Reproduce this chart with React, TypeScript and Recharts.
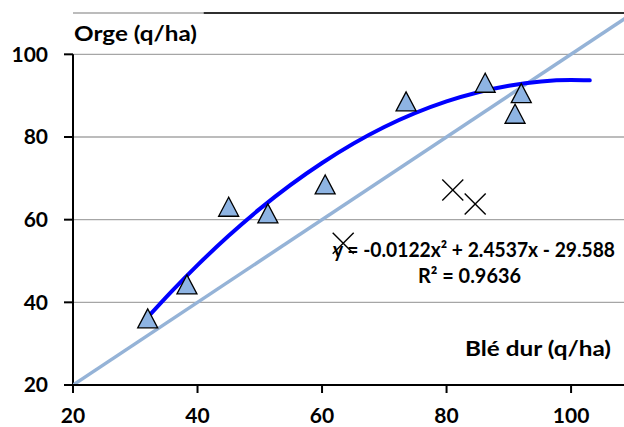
import React from "react";
import {
  CartesianGrid,
  ComposedChart,
  Line,
  ReferenceLine,
  Scatter,
  XAxis,
  YAxis,
} from "recharts";

// Blé dur (x) vs Orge (y), q/ha
const trialX = [32, 38.3, 45, 51.3, 60.5, 73.5, 86.2, 92, 91];
const trialY = [36, 44.2, 63, 61.4, 68.4, 88.5, 93, 90.5, 85.5];

const outlierX = [63.4, 81, 84.6];
const outlierY = [54.3, 67.2, 63.8];

// polynomial trend line
const fitX = [32, 36, 40, 45, 50, 60, 70, 80, 90, 100, 103];
const fitY = [36.4, 42.9, 49.0, 56.1, 62.6, 73.7, 82.4, 88.6, 92.4, 93.8, 93.7];

// 1:1 line
const diagX = [20, 110];
const diagY = [20, 110];

const xTicks = [20, 40, 60, 80, 100];
const yTicks = [20, 40, 60, 80, 100];

const equation = "y = -0.0122x² + 2.4537x - 29.588";
const rSquared = "R² = 0.9636";

const zip = (xs: number[], ys: number[]) => xs.map((x, i) => ({ x, y: ys[i] }));

const trials = zip(trialX, trialY);
const outliers = zip(outlierX, outlierY);
const fit = zip(fitX, fitY);
const diag = zip(diagX, diagY);

const FONT = "Lato, 'Open Sans', sans-serif";
const tickStyle = { fill: "#000", fontSize: 21, fontWeight: 700, fontFamily: FONT };

const Triangle = (props: any) => {
  const { cx, cy } = props;
  if (cx == null || cy == null) return null;
  return (
    <polygon
      points={`${cx},${cy - 10} ${cx - 10},${cy + 9} ${cx + 10},${cy + 9}`}
      fill="#8EB4E3"
      stroke="#000"
      strokeWidth={1.3}
    />
  );
};

const Cross = (props: any) => {
  const { cx, cy } = props;
  if (cx == null || cy == null) return null;
  const r = 10.5;
  return (
    <g stroke="#000" strokeWidth={1.4}>
      <line x1={cx - r} y1={cy - r} x2={cx + r} y2={cy + r} />
      <line x1={cx - r} y1={cy + r} x2={cx + r} y2={cy - r} />
    </g>
  );
};

const textProps = {
  fontSize: 21,
  fontWeight: 700,
  fontFamily: FONT,
  fill: "#000",
  lengthAdjust: "spacingAndGlyphs" as const,
};

export default function App() {
  return (
    <div style={{ position: "absolute", left: 0, top: 0 }}>
      <ComposedChart
        width={624}
        height={427}
        margin={{ top: 13, right: 0, bottom: 0, left: 0 }}
      >
        <CartesianGrid vertical={false} stroke="#A6A6A6" strokeWidth={1.3} />
        <XAxis
          type="number"
          dataKey="x"
          domain={[20, 108.5]}
          ticks={xTicks}
          allowDataOverflow
          height={42}
          stroke="#000"
          strokeWidth={2}
          tickSize={8}
          tickMargin={15}
          tick={tickStyle}
        />
        <YAxis
          type="number"
          dataKey="y"
          domain={[20, 110]}
          ticks={yTicks}
          allowDataOverflow
          width={73}
          axisLine={false}
          tickLine={{ stroke: "#000", strokeWidth: 2 }}
          tickSize={9}
          tickMargin={16}
          tick={tickStyle}
        />
        <ReferenceLine
          segment={[
            { x: 20, y: 20 },
            { x: 20, y: 100 },
          ]}
          stroke="#000"
          strokeWidth={2}
        />
        <ReferenceLine
          segment={[
            { x: 41, y: 110 },
            { x: 108.5, y: 110 },
          ]}
          stroke="#000"
          strokeWidth={1.5}
        />
        <Line
          data={diag}
          dataKey="y"
          type="linear"
          stroke="#95B3D7"
          strokeWidth={3.5}
          dot={false}
          isAnimationActive={false}
        />
        <Scatter data={trials} shape={<Triangle />} isAnimationActive={false} />
        <Line
          data={fit}
          dataKey="y"
          type="monotone"
          stroke="#0000FF"
          strokeWidth={4}
          strokeLinecap="round"
          dot={false}
          isAnimationActive={false}
        />
        <Scatter data={outliers} shape={<Cross />} isAnimationActive={false} />
        <text x={74} y={41} textLength={123} {...textProps}>
          Orge (q/ha)
        </text>
        <text x={465} y={356} textLength={146} {...textProps}>
          Blé dur (q/ha)
        </text>
        <text x={333} y={257} textLength={282} {...textProps} fontSize={20}>
          {equation}
        </text>
        <text x={418} y={283} textLength={103} {...textProps} fontSize={20}>
          {rSquared}
        </text>
      </ComposedChart>
    </div>
  );
}
